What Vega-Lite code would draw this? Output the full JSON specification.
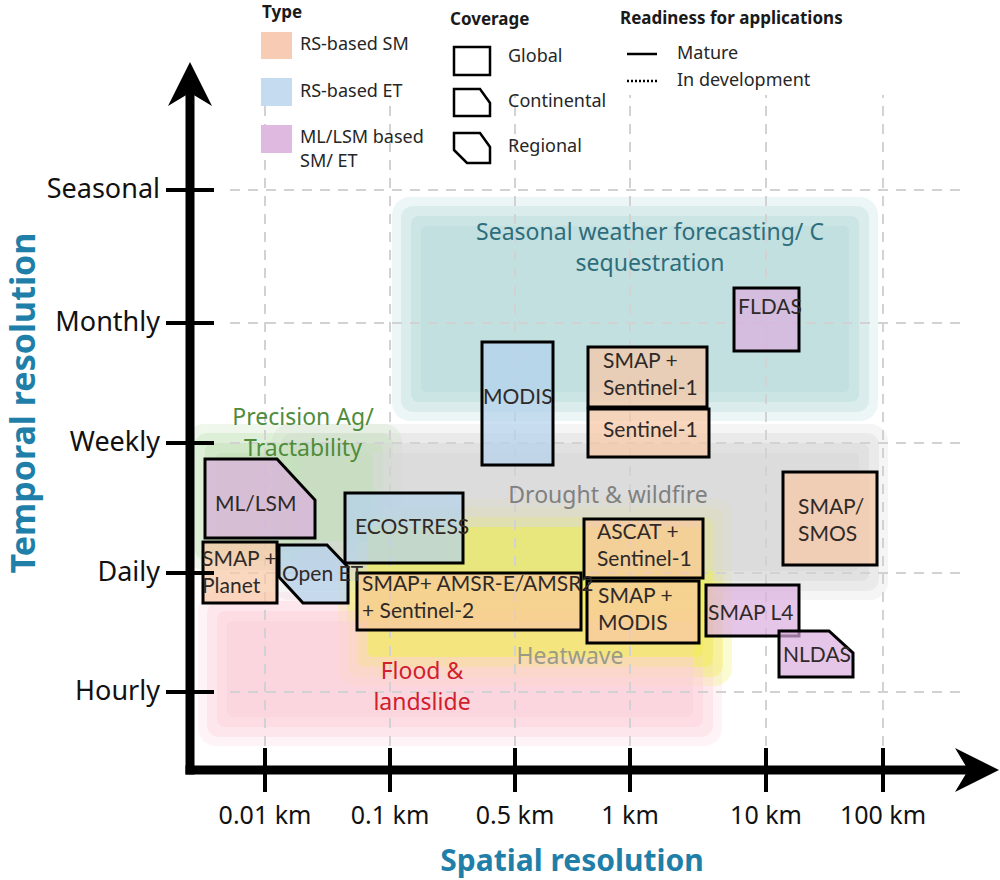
{
  "$schema": "https://vega.github.io/schema/vega-lite/v6.json",
  "width": 810,
  "height": 770,
  "autosize": {"type": "none"},
  "padding": {"left": 190, "top": 0, "right": 0, "bottom": 110},
  "background": "white",
  "config": {"view": {"stroke": null}, "font": "Noto Sans"},
  "resolve": {"scale": {"color": "independent", "strokeDash": "independent"}},
  "datasets": {
    "regions": [
      {"name": "Seasonal", "x": 216, "x2": 674, "y": 363, "y2": 559},
      {"name": "Drought", "x": 96, "x2": 684, "y": 184, "y2": 332},
      {"name": "Precision", "x": 10, "x2": 198, "y": 214, "y2": 332},
      {"name": "Flood", "x": 22, "x2": 518, "y": 38, "y2": 164},
      {"name": "Heatwave", "x": 162, "x2": 528, "y": 98, "y2": 258}
    ],
    "regionLabels": [
      {"name": "Seasonal", "label": "Seasonal weather forecasting/ C\nsequestration", "x": 460, "y": 537},
      {"name": "Precision", "label": "Precision Ag/\nTractability", "x": 113, "y": 352},
      {"name": "Drought", "label": "Drought & wildfire", "x": 418, "y": 274},
      {"name": "Heatwave", "label": "Heatwave", "x": 380, "y": 113},
      {"name": "Flood", "label": "Flood &\nlandslide", "x": 232, "y": 98}
    ],
    "xticks": [
      {"label": "0.01 km", "x": 75},
      {"label": "0.1 km", "x": 200},
      {"label": "0.5 km", "x": 325},
      {"label": "1 km", "x": 440},
      {"label": "10 km", "x": 576},
      {"label": "100 km", "x": 693}
    ],
    "yticks": [
      {"label": "Hourly", "y": 78},
      {"label": "Daily", "y": 197},
      {"label": "Weekly", "y": 327},
      {"label": "Monthly", "y": 447},
      {"label": "Seasonal", "y": 580}
    ],
    "axisTitles": [
      {"title": "Spatial resolution"},
      {"title": "Temporal resolution"}
    ],
    "boxes": [
      {"name": "SMAP + Planet", "type": "SM", "readiness": "Mature", "x": 13, "x2": 87, "y": 167, "y2": 228},
      {"name": "ECOSTRESS", "type": "ET", "readiness": "Mature", "x": 155, "x2": 273, "y": 207, "y2": 277},
      {"name": "SMAP+ AMSR-E/AMSR2 + Sentinel-2", "type": "SM", "readiness": "In development", "x": 167, "x2": 391, "y": 140, "y2": 197},
      {"name": "MODIS", "type": "ET", "readiness": "Mature", "x": 292, "x2": 363, "y": 305, "y2": 428},
      {"name": "SMAP + Sentinel-1", "type": "SM", "readiness": "Mature", "x": 398, "x2": 517, "y": 363, "y2": 423},
      {"name": "Sentinel-1", "type": "SM", "readiness": "Mature", "x": 398, "x2": 519, "y": 313, "y2": 361},
      {"name": "ASCAT + Sentinel-1", "type": "SM", "readiness": "Mature", "x": 394, "x2": 513, "y": 192, "y2": 251},
      {"name": "SMAP + MODIS", "type": "SM", "readiness": "Mature", "x": 397, "x2": 509, "y": 127, "y2": 189},
      {"name": "SMAP/SMOS", "type": "SM", "readiness": "Mature", "x": 593, "x2": 687, "y": 205, "y2": 298},
      {"name": "SMAP L4", "type": "ML", "readiness": "Mature", "x": 516, "x2": 609, "y": 134, "y2": 185},
      {"name": "FLDAS", "type": "ML", "readiness": "Mature", "x": 544, "x2": 609, "y": 419, "y2": 482}
    ],
    "shaped": [
      {"name": "ML/LSM", "type": "ML", "readiness": "In development", "x": 15, "y": 232, "y2": 311},
      {"name": "ML/LSM", "type": "ML", "readiness": "In development", "x": 87, "y": 232, "y2": 311},
      {"name": "ML/LSM", "type": "ML", "readiness": "In development", "x": 125, "y": 232, "y2": 270},
      {"name": "Open ET", "type": "ET", "readiness": "Mature", "x": 89, "y": 193, "y2": 225},
      {"name": "Open ET", "type": "ET", "readiness": "Mature", "x": 113, "y": 167, "y2": 225},
      {"name": "Open ET", "type": "ET", "readiness": "Mature", "x": 137, "y": 167, "y2": 225},
      {"name": "Open ET", "type": "ET", "readiness": "Mature", "x": 158, "y": 167, "y2": 203},
      {"name": "NLDAS", "type": "ML", "readiness": "Mature", "x": 589, "y": 93, "y2": 139},
      {"name": "NLDAS", "type": "ML", "readiness": "Mature", "x": 639, "y": 93, "y2": 139},
      {"name": "NLDAS", "type": "ML", "readiness": "Mature", "x": 663, "y": 93, "y2": 117}
    ],
    "boxLabels": [
      {"text": "ML/LSM", "x": 25, "y": 265},
      {"text": "SMAP +\nPlanet", "x": 12, "y": 210},
      {"text": "Open ET", "x": 92, "y": 195},
      {"text": "ECOSTRESS", "x": 165, "y": 242},
      {"text": "SMAP+ AMSR-E/AMSR2\n+ Sentinel-2", "x": 172, "y": 185},
      {"text": "MODIS", "x": 293, "y": 372},
      {"text": "SMAP +\nSentinel-1", "x": 413, "y": 408},
      {"text": "Sentinel-1", "x": 413, "y": 339},
      {"text": "ASCAT +\nSentinel-1", "x": 407, "y": 237},
      {"text": "SMAP +\nMODIS", "x": 408, "y": 173},
      {"text": "SMAP/\nSMOS", "x": 608, "y": 262},
      {"text": "SMAP L4", "x": 518, "y": 156},
      {"text": "NLDAS", "x": 593, "y": 114},
      {"text": "FLDAS", "x": 548, "y": 462}
    ],
    "legendTypes": [
      {"type": "SM", "x": 71, "x2": 102, "y": 711, "y2": 738},
      {"type": "ET", "x": 71, "x2": 102, "y": 664, "y2": 692},
      {"type": "ML", "x": 71, "x2": 102, "y": 617, "y2": 645}
    ],
    "legendShapes": [
      {"shape": "Global", "x": 264, "y": 695, "y2": 723},
      {"shape": "Global", "x": 300, "y": 695, "y2": 723},
      {"shape": "Continental", "x": 264, "y": 654, "y2": 681},
      {"shape": "Continental", "x": 290, "y": 654, "y2": 681},
      {"shape": "Continental", "x": 300, "y": 654, "y2": 667},
      {"shape": "Regional", "x": 264, "y": 620, "y2": 637},
      {"shape": "Regional", "x": 277, "y": 607, "y2": 637},
      {"shape": "Regional", "x": 290, "y": 607, "y2": 637},
      {"shape": "Regional", "x": 300, "y": 607, "y2": 623}
    ],
    "legendLines": [
      {"readiness": "Mature", "x": 437, "x2": 467, "y": 716},
      {"readiness": "In development", "x": 437, "x2": 467, "y": 689}
    ],
    "legendText": [
      {"text": "RS-based SM", "x": 110, "y": 725},
      {"text": "RS-based ET", "x": 110, "y": 678},
      {"text": "ML/LSM based\nSM/ ET", "x": 110, "y": 632},
      {"text": "Global", "x": 318, "y": 713},
      {"text": "Continental", "x": 318, "y": 668},
      {"text": "Regional", "x": 318, "y": 623},
      {"text": "Mature", "x": 487, "y": 716},
      {"text": "In development", "x": 487, "y": 689}
    ],
    "legendHeaders": [
      {"text": "Type", "x": 72, "y": 757},
      {"text": "Coverage", "x": 260, "y": 750},
      {"text": "Readiness for applications", "x": 430, "y": 751}
    ]
  },
  "layer": [
    {
      "data": {"name": "regions"},
      "mark": {"type": "rect", "opacity": 0.25, "cornerRadius": 18, "xOffset": -14, "x2Offset": 14, "yOffset": 14, "y2Offset": -14},
      "encoding": {
        "x": {"field": "x", "type": "quantitative", "scale": {"domain": [0, 810], "nice": false, "zero": false}, "axis": null},
        "x2": {"field": "x2"},
        "y": {"field": "y", "type": "quantitative", "scale": {"domain": [0, 770], "nice": false, "zero": false}, "axis": null},
        "y2": {"field": "y2"},
        "color": {"field": "name", "type": "nominal", "legend": null, "scale": {"domain": ["Seasonal", "Drought", "Precision", "Flood", "Heatwave"], "range": ["#b9dbdb", "#d8d8d8", "#c0e0b5", "#fcd0da", "#efef4c"]}}
      }
    },
    {
      "data": {"name": "regions"},
      "mark": {"type": "rect", "opacity": 0.35, "cornerRadius": 12, "xOffset": -5, "x2Offset": 5, "yOffset": 5, "y2Offset": -5},
      "encoding": {
        "x": {"field": "x", "type": "quantitative", "scale": {"domain": [0, 810], "nice": false, "zero": false}, "axis": null},
        "x2": {"field": "x2"},
        "y": {"field": "y", "type": "quantitative", "scale": {"domain": [0, 770], "nice": false, "zero": false}, "axis": null},
        "y2": {"field": "y2"},
        "color": {"field": "name", "type": "nominal", "legend": null, "scale": {"domain": ["Seasonal", "Drought", "Precision", "Flood", "Heatwave"], "range": ["#b9dbdb", "#d8d8d8", "#c0e0b5", "#fcd0da", "#efef4c"]}}
      }
    },
    {
      "data": {"name": "regions"},
      "mark": {"type": "rect", "opacity": 0.45, "cornerRadius": 8, "xOffset": 5, "x2Offset": -5, "yOffset": -5, "y2Offset": 5},
      "encoding": {
        "x": {"field": "x", "type": "quantitative", "scale": {"domain": [0, 810], "nice": false, "zero": false}, "axis": null},
        "x2": {"field": "x2"},
        "y": {"field": "y", "type": "quantitative", "scale": {"domain": [0, 770], "nice": false, "zero": false}, "axis": null},
        "y2": {"field": "y2"},
        "color": {"field": "name", "type": "nominal", "legend": null, "scale": {"domain": ["Seasonal", "Drought", "Precision", "Flood", "Heatwave"], "range": ["#b9dbdb", "#d8d8d8", "#c0e0b5", "#fcd0da", "#efef4c"]}}
      }
    },
    {
      "data": {"name": "regions"},
      "mark": {"type": "rect", "opacity": 0.5, "cornerRadius": 6, "xOffset": 15, "x2Offset": -15, "yOffset": -15, "y2Offset": 15},
      "encoding": {
        "x": {"field": "x", "type": "quantitative", "scale": {"domain": [0, 810], "nice": false, "zero": false}, "axis": null},
        "x2": {"field": "x2"},
        "y": {"field": "y", "type": "quantitative", "scale": {"domain": [0, 770], "nice": false, "zero": false}, "axis": null},
        "y2": {"field": "y2"},
        "color": {"field": "name", "type": "nominal", "legend": null, "scale": {"domain": ["Seasonal", "Drought", "Precision", "Flood", "Heatwave"], "range": ["#b9dbdb", "#d8d8d8", "#c0e0b5", "#fcd0da", "#efef4c"]}}
      }
    },
    {
      "data": {"name": "yticks"},
      "mark": {"type": "rule", "color": "#d2d2d2", "strokeWidth": 2, "strokeDash": [10, 8]},
      "encoding": {
        "x": {"datum": 40, "type": "quantitative", "scale": {"domain": [0, 810], "nice": false, "zero": false}, "axis": null},
        "x2": {"datum": 776},
        "y": {"field": "y", "type": "quantitative", "scale": {"domain": [0, 770], "nice": false, "zero": false}, "axis": null}
      }
    },
    {
      "data": {"name": "xticks"},
      "mark": {"type": "rule", "color": "#d2d2d2", "strokeWidth": 2, "strokeDash": [10, 8]},
      "encoding": {
        "x": {"field": "x", "type": "quantitative", "scale": {"domain": [0, 810], "nice": false, "zero": false}, "axis": null},
        "y": {"datum": 24, "type": "quantitative", "scale": {"domain": [0, 770], "nice": false, "zero": false}, "axis": null},
        "y2": {"datum": 675}
      }
    },
    {
      "data": {"name": "regionLabels"},
      "mark": {"type": "text", "fontSize": 23, "align": "center", "baseline": "middle", "lineBreak": "\n", "lineHeight": 31},
      "encoding": {
        "x": {"field": "x", "type": "quantitative", "scale": {"domain": [0, 810], "nice": false, "zero": false}, "axis": null},
        "y": {"field": "y", "type": "quantitative", "scale": {"domain": [0, 770], "nice": false, "zero": false}, "axis": null},
        "text": {"field": "label"},
        "color": {"field": "name", "type": "nominal", "legend": null, "scale": {"domain": ["Seasonal", "Drought", "Precision", "Flood", "Heatwave"], "range": ["#2e6d7b", "#808080", "#4f8c3c", "#d1202c", "#9a9a88"]}}
      }
    },
    {
      "data": {"name": "boxes"},
      "mark": {"type": "rect", "fillOpacity": 0.7, "stroke": "black", "strokeWidth": 3},
      "encoding": {
        "x": {"field": "x", "type": "quantitative", "scale": {"domain": [0, 810], "nice": false, "zero": false}, "axis": null},
        "x2": {"field": "x2"},
        "y": {"field": "y", "type": "quantitative", "scale": {"domain": [0, 770], "nice": false, "zero": false}, "axis": null},
        "y2": {"field": "y2"},
        "color": {"field": "type", "type": "nominal", "legend": null, "scale": {"domain": ["SM", "ET", "ML"], "range": ["#f8c6a4", "#b4d2ec", "#dcaede"]}},
        "strokeDash": {"field": "readiness", "type": "nominal", "legend": null, "scale": {"domain": ["Mature", "In development"], "range": [[1, 0], [3, 3]]}}
      }
    },
    {
      "data": {"name": "shaped"},
      "mark": {"type": "area", "orient": "vertical", "fillOpacity": 0.7, "stroke": "black", "strokeWidth": 3, "strokeJoin": "miter", "line": false},
      "encoding": {
        "x": {"field": "x", "type": "quantitative", "scale": {"domain": [0, 810], "nice": false, "zero": false}, "axis": null},
        "y": {"field": "y", "type": "quantitative", "stack": null, "scale": {"domain": [0, 770], "nice": false, "zero": false}, "axis": null},
        "y2": {"field": "y2"},
        "detail": {"field": "name"},
        "color": {"field": "type", "type": "nominal", "legend": null, "scale": {"domain": ["SM", "ET", "ML"], "range": ["#f8c6a4", "#b4d2ec", "#dcaede"]}},
        "strokeDash": {"field": "readiness", "type": "nominal", "legend": null, "scale": {"domain": ["Mature", "In development"], "range": [[1, 0], [3, 3]]}}
      }
    },
    {
      "data": {"name": "boxLabels"},
      "mark": {"type": "text", "font": "Lato", "fontSize": 21, "align": "left", "baseline": "middle", "lineBreak": "\n", "lineHeight": 27, "color": "#2f2a28"},
      "encoding": {
        "x": {"field": "x", "type": "quantitative", "scale": {"domain": [0, 810], "nice": false, "zero": false}, "axis": null},
        "y": {"field": "y", "type": "quantitative", "scale": {"domain": [0, 770], "nice": false, "zero": false}, "axis": null},
        "text": {"field": "text"}
      }
    },
    {
      "data": {"name": "legendTypes"},
      "mark": {"type": "rect"},
      "encoding": {
        "x": {"field": "x", "type": "quantitative", "scale": {"domain": [0, 810], "nice": false, "zero": false}, "axis": null},
        "x2": {"field": "x2"},
        "y": {"field": "y", "type": "quantitative", "scale": {"domain": [0, 770], "nice": false, "zero": false}, "axis": null},
        "y2": {"field": "y2"},
        "color": {"field": "type", "type": "nominal", "legend": null, "scale": {"domain": ["SM", "ET", "ML"], "range": ["#f7cbb4", "#c5dbf0", "#dfb9e0"]}}
      }
    },
    {
      "data": {"name": "legendShapes"},
      "mark": {"type": "area", "orient": "vertical", "fill": "white", "stroke": "black", "strokeWidth": 2.5, "strokeJoin": "miter", "line": false},
      "encoding": {
        "x": {"field": "x", "type": "quantitative", "scale": {"domain": [0, 810], "nice": false, "zero": false}, "axis": null},
        "y": {"field": "y", "type": "quantitative", "stack": null, "scale": {"domain": [0, 770], "nice": false, "zero": false}, "axis": null},
        "y2": {"field": "y2"},
        "detail": {"field": "shape"}
      }
    },
    {
      "data": {"name": "legendLines"},
      "mark": {"type": "rule", "color": "black", "strokeWidth": 2.5},
      "encoding": {
        "x": {"field": "x", "type": "quantitative", "scale": {"domain": [0, 810], "nice": false, "zero": false}, "axis": null},
        "x2": {"field": "x2"},
        "y": {"field": "y", "type": "quantitative", "scale": {"domain": [0, 770], "nice": false, "zero": false}, "axis": null},
        "strokeDash": {"field": "readiness", "type": "nominal", "legend": null, "scale": {"domain": ["Mature", "In development"], "range": [[1, 0], [2, 2]]}}
      }
    },
    {
      "data": {"name": "legendText"},
      "mark": {"type": "text", "fontSize": 18, "align": "left", "baseline": "middle", "lineBreak": "\n", "lineHeight": 24, "color": "#262626"},
      "encoding": {
        "x": {"field": "x", "type": "quantitative", "scale": {"domain": [0, 810], "nice": false, "zero": false}, "axis": null},
        "y": {"field": "y", "type": "quantitative", "scale": {"domain": [0, 770], "nice": false, "zero": false}, "axis": null},
        "text": {"field": "text"}
      }
    },
    {
      "data": {"name": "legendHeaders"},
      "mark": {"type": "text", "fontSize": 17, "fontWeight": "bold", "align": "left", "baseline": "middle", "color": "#1a1a1a"},
      "encoding": {
        "x": {"field": "x", "type": "quantitative", "scale": {"domain": [0, 810], "nice": false, "zero": false}, "axis": null},
        "y": {"field": "y", "type": "quantitative", "scale": {"domain": [0, 770], "nice": false, "zero": false}, "axis": null},
        "text": {"field": "text"}
      }
    },
    {
      "data": {"values": [{}]},
      "mark": {"type": "rule", "color": "black", "strokeWidth": 9},
      "encoding": {
        "x": {"datum": 0, "type": "quantitative", "scale": {"domain": [0, 810], "nice": false, "zero": false}, "axis": null},
        "y": {"datum": -4.5, "type": "quantitative", "scale": {"domain": [0, 770], "nice": false, "zero": false}, "axis": null},
        "y2": {"datum": 690}
      }
    },
    {
      "data": {"values": [{}]},
      "mark": {"type": "rule", "color": "black", "strokeWidth": 9},
      "encoding": {
        "x": {"datum": -4.5, "type": "quantitative", "scale": {"domain": [0, 810], "nice": false, "zero": false}, "axis": null},
        "x2": {"datum": 790},
        "y": {"datum": 0, "type": "quantitative", "scale": {"domain": [0, 770], "nice": false, "zero": false}, "axis": null}
      }
    },
    {
      "data": {"values": [{}]},
      "mark": {"type": "point", "shape": "M0,-1 L1,1 L0,0.4 L-1,1 Z", "size": 1936, "filled": true, "color": "black", "opacity": 1, "strokeWidth": 0},
      "encoding": {
        "x": {"datum": 0, "type": "quantitative", "scale": {"domain": [0, 810], "nice": false, "zero": false}, "axis": null},
        "y": {"datum": 686, "type": "quantitative", "scale": {"domain": [0, 770], "nice": false, "zero": false}, "axis": null}
      }
    },
    {
      "data": {"values": [{}]},
      "mark": {"type": "point", "shape": "M1,0 L-1,1 L-0.4,0 L-1,-1 Z", "size": 1936, "filled": true, "color": "black", "opacity": 1, "strokeWidth": 0},
      "encoding": {
        "x": {"datum": 787, "type": "quantitative", "scale": {"domain": [0, 810], "nice": false, "zero": false}, "axis": null},
        "y": {"datum": 0, "type": "quantitative", "scale": {"domain": [0, 770], "nice": false, "zero": false}, "axis": null}
      }
    },
    {
      "data": {"name": "xticks"},
      "mark": {"type": "rule", "color": "black", "strokeWidth": 4},
      "encoding": {
        "x": {"field": "x", "type": "quantitative", "scale": {"domain": [0, 810], "nice": false, "zero": false}, "axis": null},
        "y": {"datum": -22, "type": "quantitative", "scale": {"domain": [0, 770], "nice": false, "zero": false}, "axis": null},
        "y2": {"datum": 22}
      }
    },
    {
      "data": {"name": "yticks"},
      "mark": {"type": "rule", "color": "black", "strokeWidth": 4},
      "encoding": {
        "x": {"datum": -24, "type": "quantitative", "scale": {"domain": [0, 810], "nice": false, "zero": false}, "axis": null},
        "x2": {"datum": 24},
        "y": {"field": "y", "type": "quantitative", "scale": {"domain": [0, 770], "nice": false, "zero": false}, "axis": null}
      }
    },
    {
      "data": {"name": "xticks"},
      "mark": {"type": "text", "fontSize": 25, "align": "center", "baseline": "middle", "color": "#111111"},
      "encoding": {
        "x": {"field": "x", "type": "quantitative", "scale": {"domain": [0, 810], "nice": false, "zero": false}, "axis": null},
        "y": {"datum": -46, "type": "quantitative", "scale": {"domain": [0, 770], "nice": false, "zero": false}, "axis": null},
        "text": {"field": "label"}
      }
    },
    {
      "data": {"name": "yticks"},
      "mark": {"type": "text", "fontSize": 27, "align": "right", "baseline": "middle", "color": "#111111"},
      "encoding": {
        "x": {"datum": -30, "type": "quantitative", "scale": {"domain": [0, 810], "nice": false, "zero": false}, "axis": null},
        "y": {"field": "y", "type": "quantitative", "scale": {"domain": [0, 770], "nice": false, "zero": false}, "axis": null},
        "text": {"field": "label"}
      }
    },
    {
      "data": {"name": "axisTitles"},
      "transform": [{"filter": "datum.title === 'Spatial resolution'"}],
      "mark": {"type": "text", "fontSize": 30, "fontWeight": "bold", "align": "center", "baseline": "middle", "color": "#1f7fa8"},
      "encoding": {
        "x": {"datum": 382, "type": "quantitative", "scale": {"domain": [0, 810], "nice": false, "zero": false}, "axis": null},
        "y": {"datum": -92, "type": "quantitative", "scale": {"domain": [0, 770], "nice": false, "zero": false}, "axis": null},
        "text": {"field": "title"}
      }
    },
    {
      "data": {"name": "axisTitles"},
      "transform": [{"filter": "datum.title === 'Temporal resolution'"}],
      "mark": {"type": "text", "fontSize": 34, "fontWeight": "bold", "align": "center", "baseline": "middle", "angle": 270, "color": "#1f7fa8"},
      "encoding": {
        "x": {"datum": -165, "type": "quantitative", "scale": {"domain": [0, 810], "nice": false, "zero": false}, "axis": null},
        "y": {"datum": 367, "type": "quantitative", "scale": {"domain": [0, 770], "nice": false, "zero": false}, "axis": null},
        "text": {"field": "title"}
      }
    }
  ]
}
